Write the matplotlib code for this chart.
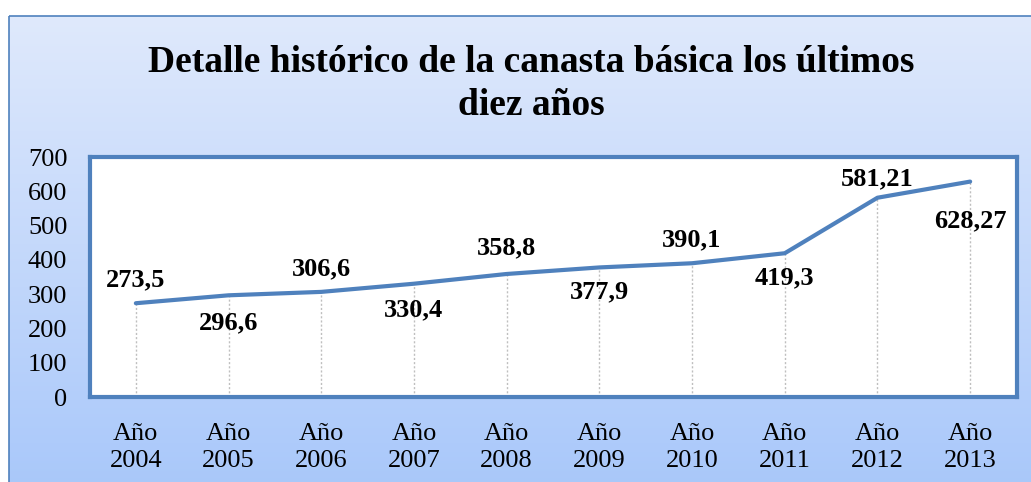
import numpy as np
from matplotlib import pyplot as plt
from matplotlib.patches import Rectangle

years = ['Año\n2004', 'Año\n2005', 'Año\n2006', 'Año\n2007', 'Año\n2008',
         'Año\n2009', 'Año\n2010', 'Año\n2011', 'Año\n2012', 'Año\n2013']
values = [273.5, 296.6, 306.6, 330.4, 358.8, 377.9, 390.1, 419.3, 581.21, 628.27]
labels = ['273,5', '296,6', '306,6', '330,4', '358,8', '377,9', '390,1', '419,3', '581,21', '628,27']
title = 'Detalle histórico de la canasta básica los últimos\ndiez años'

# label centre offset from its point, in pixels (up is positive)
label_dy = [23, -28, 23, -26, 26, -24, 23, -25, 19, -39]

plt.rcParams['font.family'] = ['Liberation Serif', 'DejaVu Serif']
blue = '#4F81BD'

W, H = 1031, 482
fig = plt.figure(figsize=(W / 100, H / 100), dpi=100)
fig.patch.set_facecolor('white')

# background box with vertical gradient
bg = fig.add_axes([0, 0, 1, 1], zorder=-1)
bg.set_xlim(0, W)
bg.set_ylim(H, 0)
bg.axis('off')
grad = np.linspace(0, 1, 256).reshape(-1, 1)
top = np.array([0.875, 0.914, 0.988])
bot = np.array([0.663, 0.784, 0.980])
img = (top + (bot - top) * grad[..., None]).reshape(256, 1, 3)
bg.imshow(img, extent=[9, W + 5, H + 5, 16], aspect='auto', zorder=0)
bg.add_patch(Rectangle((9, 16), W, H, fill=False, edgecolor=blue, lw=1.2, zorder=1))
bg.text(531, 84, title, ha='center', va='center', fontsize=27, fontweight='bold',
        linespacing=1.3)

ax = fig.add_axes([89.5 / W, (H - 397) / H, 927 / W, 240 / H])
ax.set_facecolor('white')
x = np.arange(len(values))
ax.vlines(x, 0, values, colors='#BFBFBF', linestyles=(0, (1.5, 1.5)), lw=1, zorder=1)
ax.plot(x, values, color=blue, lw=3, zorder=3, solid_capstyle='round')

for i, (v, lab) in enumerate(zip(values, labels)):
    ax.annotate(lab, (i, v), xytext=(0, label_dy[i] * 0.72), textcoords='offset points',
                ha='center', va='center', fontsize=19, fontweight='bold', zorder=4)

ax.set_xlim(-0.5, len(values) - 0.5)
ax.set_ylim(0, 700)
ax.set_yticks(range(0, 701, 100))
ax.set_xticks(x)
ax.set_xticklabels(years, linespacing=1.3)
ax.tick_params(axis='both', length=0, labelsize=19)
ax.tick_params(axis='y', pad=16)
ax.tick_params(axis='x', pad=19)
for s in ax.spines.values():
    s.set_color(blue)
    s.set_linewidth(3)

fig.savefig('out.png', dpi=100)
